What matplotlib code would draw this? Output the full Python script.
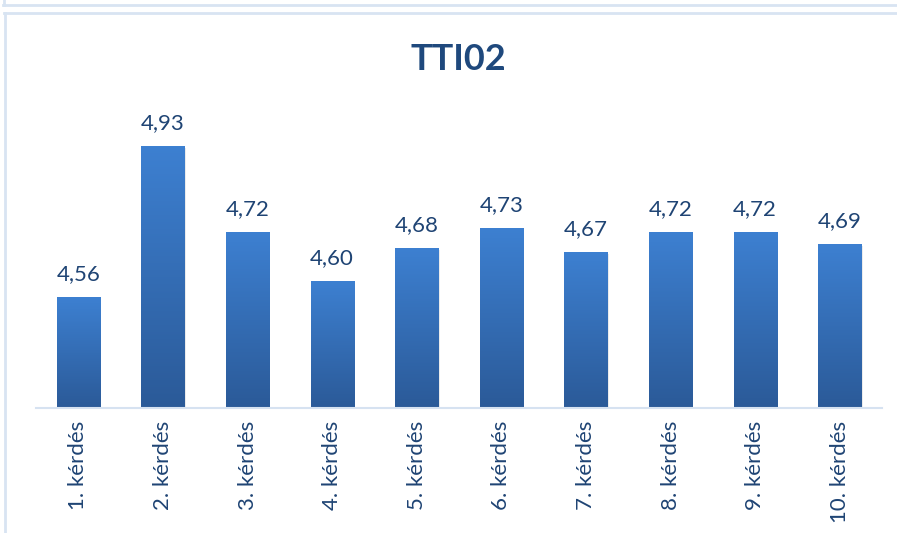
#!/usr/bin/env python3

import matplotlib
matplotlib.use('Agg')
import matplotlib.pyplot as plt
import numpy as np
from matplotlib.colors import LinearSegmentedColormap
from matplotlib.lines import Line2D

# TTI02 averages per question
categories = ['1. kérdés', '2. kérdés', '3. kérdés', '4. kérdés', '5. kérdés',
              '6. kérdés', '7. kérdés', '8. kérdés', '9. kérdés', '10. kérdés']
values = [4.56, 4.93, 4.72, 4.60, 4.68, 4.73, 4.67, 4.72, 4.72, 4.69]
title = 'TTI02'

plt.rcParams['font.family'] = ['Lato', 'DejaVu Sans']

W, H = 897, 533
fig = plt.figure(figsize=(W / 100, H / 100), dpi=100)
ax = fig.add_axes([36 / W, (H - 408) / H, (882 - 36) / W, (408 - 118) / H])

x = np.arange(len(categories))
bars = ax.bar(x, values, width=0.51, bottom=0, color='none', zorder=2)

# vertical gradient fill, lighter at the top
grad = LinearSegmentedColormap.from_list('bar', ['#2b5a98', '#3d80d1'])
ymin, ymax = 4.29, 5.0
g = np.linspace(0, 1, 256).reshape(-1, 1)
for rect in bars:
    x0 = rect.get_x()
    w = rect.get_width()
    top = rect.get_height()
    # soft shadow
    ax.add_patch(plt.Rectangle((x0 + 0.015, ymin), w, top - ymin - 0.004,
                               color='#000000', alpha=0.08, lw=0, zorder=1))
    ax.imshow(g, extent=[x0, x0 + w, ymin, top], origin='lower',
              aspect='auto', cmap=grad, zorder=2, interpolation='bilinear')

for xi, v in zip(x, values):
    ax.text(xi, v + 0.033, ('%.2f' % v).replace('.', ','), ha='center',
            va='bottom', fontsize=16, color='#1f4474')

ax.set_xlim(-0.5, len(categories) - 0.5)
ax.set_ylim(ymin, ymax)
ax.set_xticks(x)
ax.set_xticklabels(categories, rotation=90, fontsize=16, color='#1f4474')
ax.tick_params(axis='x', length=0, pad=9)
ax.set_yticks([])
for s in ['top', 'right', 'left']:
    ax.spines[s].set_visible(False)
ax.spines['bottom'].set_color('#d6e2f1')
ax.spines['bottom'].set_linewidth(1.5)
ax.spines['bottom'].set_zorder(3)

fig.text(458 / W, 1 - 60 / H, title, ha='center', va='center',
         fontsize=26, fontweight='bold', color='#1f497d')

# chart frame lines
fc = '#d8e4f2'
fig.add_artist(Line2D([3 / W, 1], [1 - 4.5 / H, 1 - 4.5 / H], color=fc, lw=2))
fig.add_artist(Line2D([3.5 / W, 3.5 / W], [1, 1 - 4.5 / H], color=fc, lw=2))
fig.add_artist(Line2D([4 / W, 1], [1 - 13 / H, 1 - 13 / H], color=fc, lw=2))
fig.add_artist(Line2D([5 / W, 5 / W], [0, 1 - 13 / H], color=fc, lw=2))

fig.savefig('out.png', dpi=100)
